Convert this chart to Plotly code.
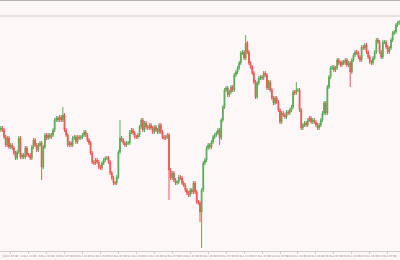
import plotly.graph_objects as go

# Close prices (arbitrary price units), read left to right from the picture
closes_a = [132,130,123,115,122,113,115,112,107,102,108,122,103,105,103,112,105,105,102,113,
            120,115,110,115,117,93,113,125,122,125,123,125,130,140,142,140,143,140,145,130,
            125,115,117,115,122,123,118,123,122,123,125,128,125,120,117,107,98,97,100,98,
            93,92,97,100,102,102,98,87,82,77,77,83,108,122,120,117,115,117,117,128,
            130,127,123]
closes_b = [123,125,133,140,130,137,133,132,135,132,128,133,130,128,135,128,123,122,123,125,
            90,82,87,80,77,78,83,82,77,75,70,67,65,70,68,77,68,58,57,48,
            70,97,100,112,115,113,118,123,125,127,130,122,140,153,170,172,165,168,173,170,
            185,188,192,197,207,208,202,217,208,197,193,187,178,163,177,182,183,182,187,185,
            172,178]
closes_c = [170,162,157,162,158,150,138,147,145,143,148,147,150,153,168,167,170,170,150,132,
            135,137,135,140,142,138,140,138,135,132,135,140,147,157,147,173,183,192,193,190,
            192,200,197,195,198,197,200,195,197,188,200,205,208,207,203,200,213,212,215,208,
            203,198,197,202,208,220,218,208,203,218,218,213,208,212,220,227,228,235,237,238]
first_open = 130

# Notable wick extremes (candle index -> price)
spike_highs = {38: 153, 73: 140, 150: 225, 181: 178}
spike_lows = {25: 80, 103: 60, 122: 38, 123: 12, 134: 115, 214: 173}

level_line = 244  # horizontal line near the top

tick_labels = ["8 Dec 07:00", "8 Dec 23:00", "9 Dec 15:00", "10 Dec 07:00", "10 Dec 23:00",
               "11 Dec 15:00", "12 Dec 07:00", "12 Dec 23:00", "13 Dec 15:00", "14 Dec 07:00",
               "14 Dec 23:00", "15 Dec 15:00", "16 Dec 07:00", "16 Dec 23:00", "17 Dec 15:00",
               "18 Dec 07:00", "18 Dec 23:00", "19 Dec 15:00", "20 Dec 07:00", "20 Dec 23:00",
               "21 Dec 15:00", "22 Dec 07:00"]

closes = closes_a + closes_b + closes_c
n = len(closes)
opens = [first_open] + closes[:-1]
highs = [max(o, c) + 2 for o, c in zip(opens, closes)]
lows = [min(o, c) - 2 for o, c in zip(opens, closes)]
for i, v in spike_highs.items():
    highs[i] = max(highs[i], v)
for i, v in spike_lows.items():
    lows[i] = min(lows[i], v)
x = list(range(n))
tick_vals = [6 + 11 * k for k in range(len(tick_labels))]

fig = go.Figure(go.Candlestick(
    x=x, open=opens, high=highs, low=lows, close=closes,
    increasing=dict(line=dict(color="#48a448", width=1), fillcolor="#48a448"),
    decreasing=dict(line=dict(color="#f04545", width=1), fillcolor="#f04545"),
    whiskerwidth=0,
    opacity=0.9,
    showlegend=False,
))

fig.add_hline(y=level_line, line=dict(color="#dedad9", width=1.5))
fig.add_shape(type="line", xref="paper", yref="paper", x0=0, x1=1, y0=1, y1=1,
              line=dict(color="#b5b2b1", width=2))

fig.update_layout(
    width=400, height=260,
    margin=dict(l=0, r=0, t=0, b=9, autoexpand=False),
    paper_bgcolor="#fdf8f7",
    plot_bgcolor="#fdf8f7",
    xaxis=dict(range=[-0.5, n - 0.5], rangeslider=dict(visible=False),
               showgrid=False, zeroline=False, showline=True, linecolor="#cfcbca", linewidth=1,
               tickmode="array", tickvals=tick_vals, ticktext=tick_labels,
               tickangle=0, automargin=False,
               tickfont=dict(size=2.6, color="#8a8787", family="DejaVu Sans"),
               ticks="outside", ticklen=2, tickcolor="#cfcbca"),
    yaxis=dict(range=[9, 260], showgrid=False, zeroline=False, showticklabels=False),
)

fig.write_html("out.html")
